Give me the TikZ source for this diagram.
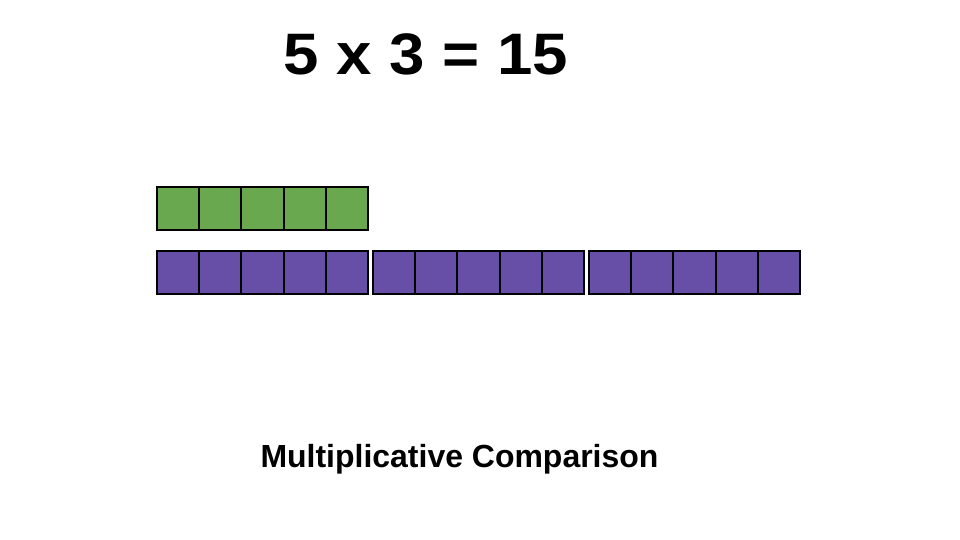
\documentclass[tikz,border=0pt]{standalone}
\usepackage{fontspec}
\setmainfont{Liberation Sans}
\usepackage{graphicx}
\usepackage{tikz}

\begin{document}
\begin{tikzpicture}[x=0.02cm,y=-0.02cm]

% Colori
\definecolor{colGreen}{HTML}{6AA84F}
\definecolor{colPurple}{HTML}{674EA7}

\tikzset{
  cella/.style={draw=black, line width=1.1pt, inner sep=0pt, minimum size=0.844cm},
}

% Lato del quadrato (in pixel)
\def\lato{42.2}

\useasboundingbox[fill=white] (0,0) rectangle (960,540);

% Titolo
\node[anchor=base, font=\fontsize{33.3}{40}\selectfont\bfseries] (titolo) at (426,75) {\scalebox{1.087}[1]{5 x 3 = 15}};

% Riga verde (5 quadrati)
\foreach \i in {1,...,5}
  \node[cella, fill=colGreen] (g\i) at ({157+\lato*(\i-0.5)},208.5) {};

% Riga viola (3 gruppi da 5)
\foreach \g in {0,1,2}
  \foreach \i in {1,...,5}
    \pgfmathtruncatemacro{\n}{5*\g+\i}
    \node[cella, fill=colPurple] (p\n) at ({157+216*\g+\lato*(\i-0.5)},272.5) {};

% Didascalia
\node[anchor=base, font=\fontsize{18.2}{22}\selectfont\bfseries] (didascalia) at (459.5,467) {Multiplicative Comparison};

\end{tikzpicture}
\end{document}
